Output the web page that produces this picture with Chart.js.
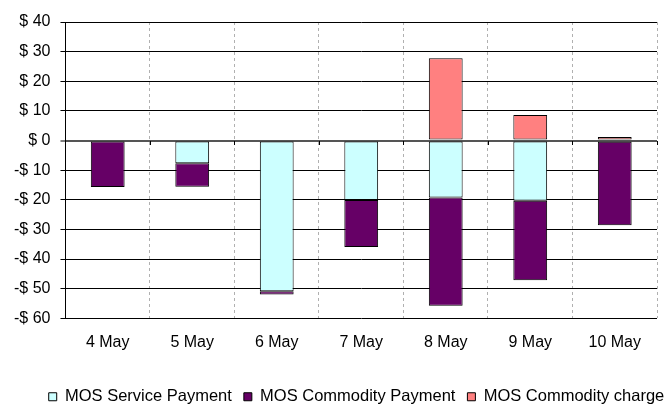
<!DOCTYPE html>
<html>
<head>
<meta charset="utf-8">
<script src="https://cdn.jsdelivr.net/npm/chart.js@4.4.1/dist/chart.umd.min.js"></script>
<style>
  html, body { margin: 0; padding: 0; background: #fff; }
  #wrap { width: 664px; height: 408px; position: relative; }
</style>
</head>
<body>
<div id="wrap"><canvas id="chart"></canvas></div>
<script>
const labels = ['4 May', '5 May', '6 May', '7 May', '8 May', '9 May', '10 May'];
const servicePayment = [0, -7.7, -50.9, -20.1, -19.2, -20.3, -0.4];
const commodityPayment = [-15.7, -7.9, -1.1, -15.8, -36.6, -26.9, -28.2];
const commodityCharge = [0, 0, 0, 0, 27.8, 8.6, 1.2];

const FONT = 'Liberation Sans, Arial, sans-serif';

function money(v) {
  return v < 0 ? `-$ ${Math.abs(v)}` : `$ ${v}`;
}

const bar = (label, data, color) => ({
  label,
  data,
  backgroundColor: color,
  borderColor: '#000000',
  borderWidth: 1,
  borderSkipped: false,
  barPercentage: 0.4,
  categoryPercentage: 1,
});

// small category tick marks hanging under the zero line, like Excel draws them
const zeroTicks = {
  id: 'zeroTicks',
  afterDatasetsDraw(chart) {
    const { ctx, scales: { x, y } } = chart;
    const y0 = Math.round(y.getPixelForValue(0));
    ctx.save();
    ctx.strokeStyle = '#000';
    ctx.lineWidth = 1;
    ctx.beginPath();
    for (let i = 0; i <= labels.length; i++) {
      const px = Math.round(x.getPixelForValue(i - 0.5)) + 0.5;
      ctx.moveTo(px, y0);
      ctx.lineTo(px, y0 + 4);
    }
    ctx.stroke();
    ctx.restore();
  },
};

// move the legend right and a bit down, the way the original sits
const legendShift = {
  id: 'legendShift',
  afterLayout(chart) {
    const l = chart.legend;
    l.left += 26;
    l.right += 26;
    l.top += 7;
    l.bottom += 7;
  },
};

new Chart(document.getElementById('chart'), {
  type: 'bar',
  data: {
    labels,
    datasets: [
      bar('MOS Service Payment', servicePayment, '#CCFFFF'),
      bar('MOS Commodity Payment', commodityPayment, '#660066'),
      bar('MOS Commodity charge', commodityCharge, '#FF8080'),
    ],
  },
  options: {
    responsive: true,
    maintainAspectRatio: false,
    animation: false,
    layout: { padding: { left: 4, right: 7, top: 22, bottom: 0 } },
    plugins: {
      tooltip: { enabled: false },
      legend: {
        position: 'bottom',
        labels: {
          boxWidth: 8,
          boxHeight: 8,
          padding: 12,
          color: '#000',
          font: { family: FONT, size: 16.5 },
        },
      },
    },
    scales: {
      x: {
        stacked: true,
        grid: { color: '#b0b0b0', lineWidth: 1, drawTicks: false },
        border: { display: false, dash: [3, 3] },
        ticks: { color: '#000', padding: 15, font: { family: FONT, size: 16 } },
        afterFit(scale) { scale.height += 2; },
      },
      y: {
        stacked: true,
        min: -60,
        max: 40,
        ticks: {
          stepSize: 10,
          color: '#000',
          padding: 10,
          font: { family: FONT, size: 16 },
          callback: (v) => money(v),
        },
        grid: {
          color: (c) => (c.tick && c.tick.value === 0 ? '#555' : '#000'),
          lineWidth: (c) => (c.tick && c.tick.value === 0 ? 2 : 1),
          tickColor: '#000',
          tickWidth: 1,
          tickLength: 5,
        },
        border: { color: '#000', width: 1 },
      },
    },
  },
  plugins: [zeroTicks, legendShift],
});
</script>
</body>
</html>
